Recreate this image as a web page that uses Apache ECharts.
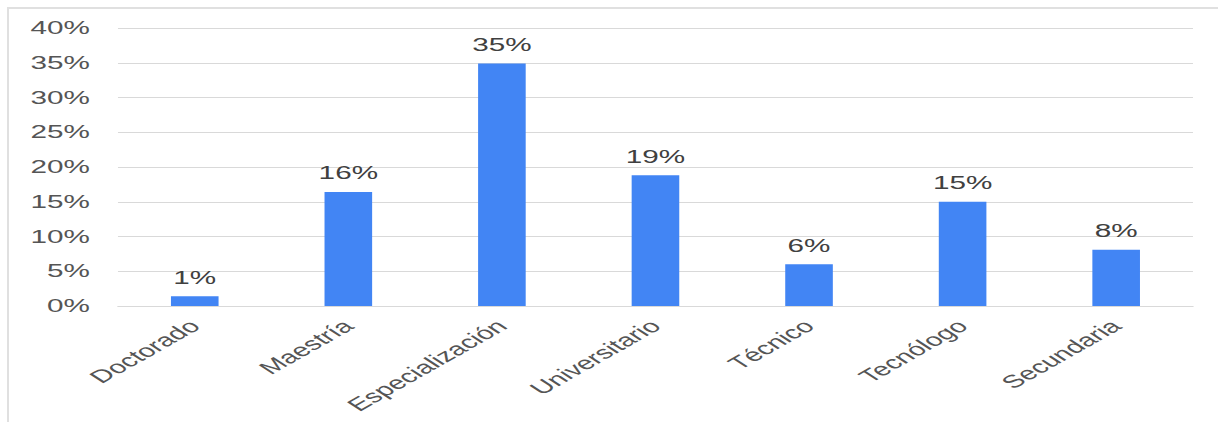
<!DOCTYPE html>
<html>
<head>
<meta charset="utf-8">
<script src="https://cdn.jsdelivr.net/npm/echarts@6/dist/echarts.min.js"></script>
<style>
  html, body { margin: 0; padding: 0; background: #fff; overflow: hidden; }
  #frame { position: absolute; left: 7px; top: 7px; width: 1211px; height: 415px;
           border-top: 2px solid #e0e0e0; border-left: 2px solid #e0e0e0; box-sizing: border-box; }
  #chart { position: absolute; left: 0; top: 0; width: 738px; height: 422px;
           transform: scaleX(1.65); transform-origin: 0 0; }
</style>
</head>
<body>
<div id="frame"></div>
<div id="chart"></div>
<script>
const categories = ['Doctorado', 'Maestría', 'Especialización', 'Universitario', 'Técnico', 'Tecnólogo', 'Secundaria'];
const values = [1.4, 16.4, 34.9, 18.8, 6.0, 15.0, 8.1];
const yTicks = { min: 0, max: 40, step: 5 };

const chart = echarts.init(document.getElementById('chart'), null, { renderer: 'svg' });
const font = '"Liberation Sans", Arial, sans-serif';
chart.setOption({
  animation: false,
  grid: { left: 71.5, right: 15, top: 28, bottom: 116 },
  xAxis: {
    type: 'category',
    data: categories,
    axisTick: { show: false },
    axisLine: { show: true, lineStyle: { color: '#d9d9d9', width: 1 } },
    axisLabel: { interval: 0, rotate: 43, margin: 17, color: '#555555', fontSize: 18, fontFamily: font }
  },
  yAxis: {
    type: 'value',
    min: yTicks.min, max: yTicks.max, interval: yTicks.step,
    axisLine: { show: false },
    axisTick: { show: false },
    splitLine: { lineStyle: { color: '#d9d9d9', width: 1 } },
    axisLabel: { formatter: '{value}%', color: '#555555', fontSize: 18, fontFamily: font, margin: 17 }
  },
  series: [{
    type: 'bar',
    data: values,
    barWidth: '31%',
    itemStyle: { color: '#4285f4' },
    label: {
      show: true, position: 'top', distance: 10,
      formatter: p => Math.round(p.value) + '%',
      color: '#404040', fontSize: 18, fontFamily: font
    }
  }]
});
</script>
</body>
</html>
